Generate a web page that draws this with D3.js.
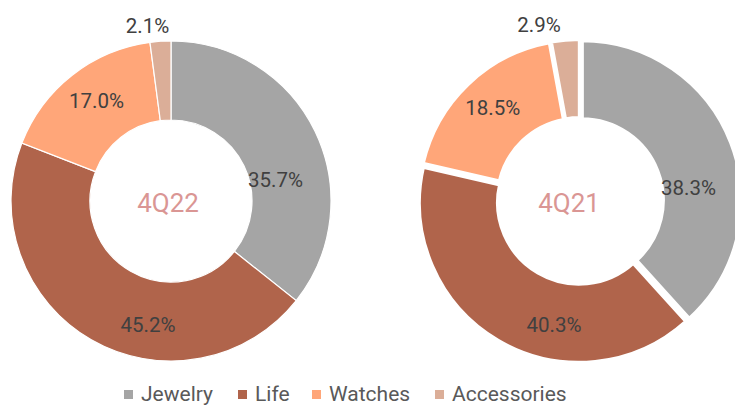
<!DOCTYPE html>
<html>
<head>
<meta charset="utf-8">
<script src="https://cdn.jsdelivr.net/npm/d3@7"></script>
<style>
  body { margin: 0; background: #fff; }
  svg { display: block; font-family: Roboto, "Noto Sans", sans-serif; }
</style>
</head>
<body>
<svg id="chart" width="735" height="405"></svg>
<script>
// categories and values (percent of sales)
const categories = ["Jewelry", "Life", "Watches", "Accessories"];
const values4Q22 = [35.7, 45.2, 17.0, 2.1];
const values4Q21 = [38.3, 40.3, 18.5, 2.9];
const periods = ["4Q22", "4Q21"];

const colors = ["#a5a5a5", "#b0644b", "#ffa679", "#dbae98"];

const color = d3.scaleOrdinal()
    .domain(categories)
    .range(colors);

const svg = d3.select("#chart");

const outerR = 160,
    innerR = 81;

// layout for each donut: center, white gap, explode distance, label nudges
const charts = [
    {period: periods[0], values: values4Q22, cx: 171, cy: 201, stroke: 1.2, explode: 0,
     centerNudge: [-3, 2],
     nudge: [[-4, 31], [37, 20], [0, -5], [-12, 0]]},
    {period: periods[1], values: values4Q21, cx: 580, cy: 201, stroke: 4, explode: 2,
     centerNudge: [-11, 2],
     nudge: [[-4, 30], [35, 20], [-4, -6], [-25, -2]]}
];

const pie = d3.pie().sort(null).value(d => d.value);
const arc = d3.arc().innerRadius(innerR).outerRadius(outerR);
const labelArc = d3.arc().innerRadius(innerR).outerRadius(outerR);
const outsideArc = d3.arc().innerRadius(outerR + 15).outerRadius(outerR + 15);

charts.forEach(c => {
    const data = categories.map((k, i) => ({key: k, value: c.values[i]}));
    const g = svg.append("g")
        .attr("transform", `translate(${c.cx},${c.cy})`);

    const slices = g.selectAll(".slice")
        .data(pie(data))
        .enter()
        .append("g")
        .attr("class", "slice")
        .attr("transform", d => {
            const a = (d.startAngle + d.endAngle) / 2;
            return `translate(${Math.sin(a) * c.explode},${-Math.cos(a) * c.explode})`;
        });

    slices.append("path")
        .attr("d", arc)
        .attr("fill", d => color(d.data.key))
        .attr("stroke", "#fff")
        .attr("stroke-width", c.stroke)
        .attr("stroke-linejoin", "miter");

    // value labels
    g.selectAll(".lbl")
        .data(pie(data))
        .enter()
        .append("text")
        .attr("class", "lbl")
        .attr("transform", (d, i) => {
            const small = d.data.value < 5;
            const p = small ? outsideArc.centroid(d) : labelArc.centroid(d);
            return `translate(${p[0] + c.nudge[i][0]},${p[1] + c.nudge[i][1]})`;
        })
        .attr("text-anchor", "middle")
        .attr("dominant-baseline", "central")
        .style("font-size", "20.5px")
        .style("fill", "#404040")
        .text(d => d.data.value.toFixed(1) + "%");

    g.append("text")
        .attr("x", c.centerNudge[0])
        .attr("y", c.centerNudge[1])
        .attr("text-anchor", "middle")
        .attr("dominant-baseline", "central")
        .style("font-size", "26px")
        .style("fill", "#da9694")
        .text(c.period);
});

// legend
const legendX = [124, 238, 312, 435];
const legend = svg.append("g").attr("transform", "translate(0,394)");
categories.forEach((k, i) => {
    legend.append("rect")
        .attr("x", legendX[i])
        .attr("y", -4)
        .attr("width", 9)
        .attr("height", 9)
        .attr("fill", color(k));
    legend.append("text")
        .attr("x", legendX[i] + 17)
        .attr("y", 0)
        .attr("dominant-baseline", "central")
        .style("font-size", "21px")
        .style("fill", "#595959")
        .text(k);
});
</script>
</body>
</html>
